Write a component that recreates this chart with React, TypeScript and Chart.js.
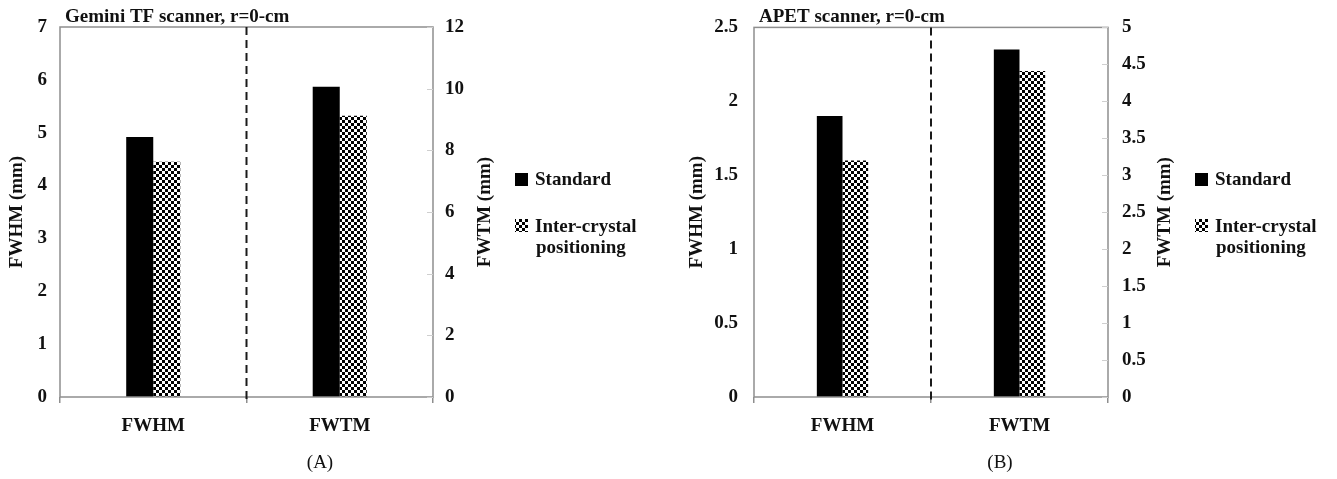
import React, { useEffect, useRef } from "react";
import { Chart, registerables } from "chart.js";

Chart.register(...registerables);

// ---------- DATA ----------
const categories = ["FWHM", "FWTM"];
const seriesNames = ["Standard", "Inter-crystal positioning"];
const legendLines = [["Standard"], ["Inter-crystal", "positioning"]];

// Panel A: Gemini TF (FWHM read on left axis, FWTM on right axis)
const geminiTitle = "Gemini TF scanner, r=0-cm";
const geminiStandard = [4.92, 10.06];
const geminiInter = [4.45, 9.12];
const geminiLeftTicks = [0, 1, 2, 3, 4, 5, 6, 7];
const geminiRightTicks = [0, 2, 4, 6, 8, 10, 12];

// Panel B: APET
const apetTitle = "APET scanner, r=0-cm";
const apetStandard = [1.9, 4.7];
const apetInter = [1.6, 4.41];
const apetLeftTicks = [0, 0.5, 1, 1.5, 2, 2.5];
const apetRightTicks = [0, 0.5, 1, 1.5, 2, 2.5, 3, 3.5, 4, 4.5, 5];

const leftAxisTitle = "FWHM (mm)";
const rightAxisTitle = "FWTM (mm)";

// ---------- STYLE ----------
const FAMILY = "'Liberation Serif', 'Times New Roman', serif";
const TEXT = "#111111";
const FRAME = "#8e8e8e";

function makeChecker(): CanvasPattern | string {
  const c = document.createElement("canvas");
  c.width = 6;
  c.height = 6;
  const g = c.getContext("2d");
  if (!g) return "#666";
  g.fillStyle = "#ffffff";
  g.fillRect(0, 0, 6, 6);
  g.fillStyle = "#000000";
  g.fillRect(0, 0, 3, 3);
  g.fillRect(3, 3, 3, 3);
  const p = g.createPattern(c, "repeat");
  return p || "#666";
}

const fmt = (v: any) => String(Number(v));

type PanelProps = {
  left: number;
  width: number;
  title: string;
  panelLabel: string;
  standard: number[];
  inter: number[];
  leftTicks: number[];
  rightTicks: number[];
  yWidth: number;
  y1Width: number;
  padRight: number;
  yLabelPad: number;
  y1LabelPad: number;
};

function Panel(props: PanelProps) {
  const ref = useRef<HTMLCanvasElement | null>(null);

  useEffect(() => {
    const canvas = ref.current;
    if (!canvas) return;
    const pattern = makeChecker();
    const font = { family: FAMILY, size: 19, weight: "bold" as const };
    const lStep = props.leftTicks[1] - props.leftTicks[0];
    const rStep = props.rightTicks[1] - props.rightTicks[0];

    const decor = {
      id: "decor",
      afterDraw(chart: any) {
        const { ctx, chartArea } = chart;
        const x = chart.scales.x;
        const y1 = chart.scales.y1;
        ctx.save();
        // frame
        ctx.strokeStyle = FRAME;
        ctx.lineWidth = 1.5;
        ctx.strokeRect(chartArea.left, chartArea.top, chartArea.right - chartArea.left, chartArea.bottom - chartArea.top);
        // inside ticks on the right axis
        ctx.strokeStyle = "#cfcfcf";
        ctx.lineWidth = 1;
        for (const v of props.rightTicks) {
          const py = Math.round(y1.getPixelForValue(v)) + 0.5;
          ctx.beginPath();
          ctx.moveTo(chartArea.right - 6, py);
          ctx.lineTo(chartArea.right, py);
          ctx.stroke();
        }
        // dashed separator between categories
        const sx = (x.getPixelForValue(0) + x.getPixelForValue(1)) / 2;
        ctx.strokeStyle = "#1a1a1a";
        ctx.lineWidth = 2;
        ctx.setLineDash([8, 5]);
        ctx.beginPath();
        ctx.moveTo(sx, chartArea.top);
        ctx.lineTo(sx, chartArea.bottom + 7);
        ctx.stroke();
        ctx.setLineDash([]);
        // chart title
        ctx.fillStyle = TEXT;
        ctx.font = `bold 19px ${FAMILY}`;
        ctx.textAlign = "left";
        ctx.textBaseline = "alphabetic";
        ctx.fillText(props.title, chartArea.left + 5, chartArea.top - 5);
        // right axis title (reads bottom-to-top)
        ctx.save();
        ctx.translate(y1.right - 14, (chartArea.top + chartArea.bottom) / 2);
        ctx.rotate(-Math.PI / 2);
        ctx.textAlign = "center";
        ctx.textBaseline = "middle";
        ctx.fillText(rightAxisTitle, 0, 0);
        ctx.restore();
        // legend
        const lx = y1.right + 16;
        ctx.fillStyle = "#000";
        ctx.fillRect(lx, 173, 13, 13);
        ctx.fillStyle = TEXT;
        ctx.textAlign = "left";
        ctx.textBaseline = "middle";
        ctx.fillText(legendLines[0][0], lx + 20, 180);
        ctx.fillStyle = pattern as any;
        ctx.fillRect(lx, 219, 13, 13);
        ctx.fillStyle = TEXT;
        ctx.fillText(legendLines[1][0], lx + 20, 227);
        ctx.fillText(legendLines[1][1], lx + 21, 248);
        // panel label
        ctx.font = `19px ${FAMILY}`;
        ctx.textAlign = "center";
        ctx.fillText(props.panelLabel, 320, 463);
        ctx.restore();
      },
    };

    const chart = new Chart(canvas, {
      type: "bar",
      data: {
        labels: categories,
        datasets: [
          { label: seriesNames[0], data: [props.standard[0], null], yAxisID: "y", stack: "s", backgroundColor: "#000", borderWidth: 0 },
          { label: seriesNames[1], data: [props.inter[0], null], yAxisID: "y", stack: "i", backgroundColor: pattern as any, borderWidth: 0 },
          { label: seriesNames[0], data: [null, props.standard[1]], yAxisID: "y1", stack: "s", backgroundColor: "#000", borderWidth: 0 },
          { label: seriesNames[1], data: [null, props.inter[1]], yAxisID: "y1", stack: "i", backgroundColor: pattern as any, borderWidth: 0 },
        ],
      },
      options: {
        responsive: false,
        animation: false,
        devicePixelRatio: 1,
        categoryPercentage: 0.29,
        barPercentage: 1,
        layout: { padding: { left: 0, top: 27, right: props.padRight, bottom: 32 } },
        plugins: { legend: { display: false }, tooltip: { enabled: false }, title: { display: false } },
        scales: {
          x: {
            type: "category",
            offset: true,
            grid: { offset: true, drawOnChartArea: false, drawTicks: true, tickLength: 6, color: FRAME, lineWidth: 1.5 },
            border: { display: false },
            ticks: { color: TEXT, font, padding: 12, maxRotation: 0 },
            afterFit: (s: any) => { s.height = 50; },
          },
          y: {
            type: "linear",
            position: "left",
            min: props.leftTicks[0],
            max: props.leftTicks[props.leftTicks.length - 1],
            ticks: { stepSize: lStep, color: TEXT, font, padding: props.yLabelPad, callback: fmt },
            grid: { display: false, drawTicks: false },
            border: { display: false },
            title: { display: true, text: leftAxisTitle, color: TEXT, font, padding: { top: 6, bottom: 0 } },
            afterFit: (s: any) => { s.width = props.yWidth; },
          },
          y1: {
            type: "linear",
            position: "right",
            min: props.rightTicks[0],
            max: props.rightTicks[props.rightTicks.length - 1],
            ticks: { stepSize: rStep, color: TEXT, font, padding: props.y1LabelPad, callback: fmt },
            grid: { display: false, drawTicks: false },
            border: { display: false },
            afterFit: (s: any) => { s.width = props.y1Width; },
          },
        },
      },
      plugins: [decor],
    } as any);

    return () => chart.destroy();
  }, []);

  return (
    <div style={{ position: "absolute", left: props.left, top: 0, width: props.width, height: 479 }}>
      <canvas ref={ref} width={props.width} height={479} style={{ display: "block" }} />
    </div>
  );
}

export default function App() {
  return (
    <div style={{ position: "absolute", left: 0, top: 0, width: 1337, height: 479, background: "#fff", overflow: "hidden" }}>
      <Panel
        left={0}
        width={680}
        title={geminiTitle}
        panelLabel="(A)"
        standard={geminiStandard}
        inter={geminiInter}
        leftTicks={geminiLeftTicks}
        rightTicks={geminiRightTicks}
        yWidth={60}
        y1Width={66}
        padRight={181}
        yLabelPad={13}
        y1LabelPad={12}
      />
      <Panel
        left={680}
        width={657}
        title={apetTitle}
        panelLabel="(B)"
        standard={apetStandard}
        inter={apetInter}
        leftTicks={apetLeftTicks}
        rightTicks={apetRightTicks}
        yWidth={74}
        y1Width={71}
        padRight={158}
        yLabelPad={16}
        y1LabelPad={14}
      />
    </div>
  );
}
